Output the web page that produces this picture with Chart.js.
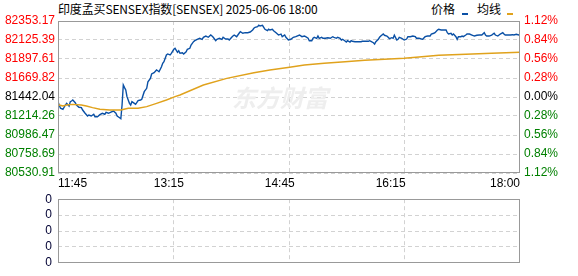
<!DOCTYPE html>
<html>
<head>
<meta charset="utf-8">
<script src="https://cdn.jsdelivr.net/npm/chart.js@4.4.1/dist/chart.umd.min.js"></script>
<style>
  body { margin: 0; background: #fff; }
  #wrap { position: relative; width: 578px; height: 276px; overflow: hidden; background: #fff; }
  .txt { position: absolute; font-family: "Noto Sans CJK SC", sans-serif; font-size: 12px; line-height: 14px; color: #000; white-space: nowrap; }
  .key { position: absolute; width: 6px; height: 2px; }
  canvas { position: absolute; left: 0; }
</style>
</head>
<body>
<div id="wrap">
  <div class="txt" style="left:58px;top:2px;letter-spacing:-0.15px;">印度孟买SENSEX指数[SENSEX] 2025-06-06 18:00</div>
  <div class="txt" style="left:431px;top:2px;">价格</div>
  <div class="key" style="left:462px;top:13px;background:#0a50a5;"></div>
  <div class="txt" style="left:477px;top:2px;">均线</div>
  <div class="key" style="left:507px;top:13px;background:#e0a21c;"></div>
  <canvas id="main" width="578" height="196" style="top:0;"></canvas>
  <canvas id="vol" width="578" height="90" style="top:186px;"></canvas>
</div>
<script>
// time axis (minutes since 11:45)
const sessionMinutes = 375;
const timeTicks = [0, 90, 180, 270, 375];
const timeLabels = ['11:45', '13:15', '14:45', '16:15', '18:00'];

// price axis
const priceTicks = [82353.17, 82125.39, 81897.61, 81669.82, 81442.04, 81214.26, 80986.47, 80758.69, 80530.91];
const pctLabels = ['1.12%', '0.84%', '0.56%', '0.28%', '0.00%', '0.28%', '0.56%', '0.84%', '1.12%'];
const baseClose = 81442.04;
const volLabels = ['0', '0', '0', '0', '0'];

// 价格
const priceMinutes = [
  0,2,4,6,7,9,10,11,12,14, 15,17,19,20,22,24,25,27,29,30,
  32,34,36,38,39,41,43,45,47,48, 50,51,52,53,54,55,56,58,59,60,
  62,63,65,67,68,70,72,73,75,76, 78,80,81,82,84,85,86,88,89,91,
  92,94,95,97,98,99,101,102,104,105, 107,108,110,111,113,115,117,118,120,122,
  124,125,126,128,129,131,133,134,136,138, 139,141,142,143,145,147,148,150,152,154,
  156,158,159,160,162,163,164,166,167,168, 170,171,172,174,175,177,179,181,182,184,
  185,187,189,191,193,194,196,198,200,201, 203,204,206,207,208,210,211,212,214,215,
  217,219,221,223,224,226,227,229,230,231, 233,234,235,237,238,239,241,243,246,247,
  249,252,253,254,256,257,258,260,261,262, 264,265,267,268,269,271,272,273,275,276,
  277,279,281,283,284,286,288,290,291,293, 295,296,298,300,302,303,305,306,308,309,
  311,313,315,316,317,319,320,321,323,324, 325,327,328,329,331,332,334,336,338,340,
  342,344,346,347,348,350,352,354,355,357, 358,359,361,362,363,365,367,369,370,372,
  374,375
];
const priceValues = [
  81386,81307,81295,81346,81366,81334,81386,81394,81406,81374,
  81346,81319,81314,81286,81247,81214,81226,81214,81235,81206,
  81206,81230,81247,81235,81259,81247,81262,81274,81247,81214,
  81194,81182,81346,81586,81554,81526,81446,81366,81346,81386,
  81366,81354,81398,81406,81414,81506,81546,81625,81666,81718,
  81733,81766,81757,81745,81805,81846,81865,81946,81958,81946,
  81966,82014,82026,81978,81997,81966,81973,81958,81985,82014,
  82026,82065,82105,82117,82134,82146,82134,82158,82173,82158,
  82185,82173,82158,82117,82134,82146,82134,82158,82137,82137,
  82125,82158,82173,82185,82165,82206,82225,82206,82213,82213,
  82221,82245,82266,82278,82285,82302,82293,82302,82278,82254,
  82237,82254,82245,82254,82237,82213,82185,82197,82165,82185,
  82158,82125,82134,82158,82165,82173,82185,82165,82173,82165,
  82146,82117,82117,82146,82158,82146,82173,82146,82158,82146,
  82146,82153,82146,82165,82158,82146,82158,82146,82125,82134,
  82113,82101,82117,82101,82117,82110,82105,82105,82105,82110,
  82110,82110,82117,82110,82093,82077,82105,82134,82158,82173,
  82197,82182,82173,82158,82141,82153,82146,82182,82125,82134,
  82158,82146,82125,82137,82165,82165,82173,82165,82146,82146,
  82137,82134,82165,82173,82173,82197,82206,82213,82245,82254,
  82245,82245,82245,82213,82197,82206,82185,82197,82165,82134,
  82165,82165,82173,82165,82185,82197,82197,82185,82173,82182,
  82185,82185,82213,82185,82173,82173,82185,82206,82185,82173,
  82185,82197,82213,82197,82185,82185,82185,82189,82185,82194,
  82185,82194
];

// 均线
const avgMinutes = [0,1,4,7,12,19,23,28,34,42,51,57,65,72,80,88,95,99,118,137,159,172,188,200,216,233,249,265,281,293,309,331,352,375];
const avgValues = [81358,81346,81334,81346,81354,81346,81334,81314,81295,81286,81286,81307,81307,81326,81366,81406,81446,81466,81586,81666,81733,81766,81798,81826,81846,81865,81882,81894,81906,81922,81942,81954,81966,81978];

// 成交量 (empty)
const volume = [];

const RED = '#ff0000', GREEN = '#008000', BLACK = '#000000';
const GRID = '#d2d2d2';
const DASH = [4, 3];
const tickFont = { family: 'Arial, "Liberation Sans", sans-serif', size: 12 };

function tickColor(v) {
  if (Math.abs(v - baseClose) < 0.01) return BLACK;
  return v > baseClose ? RED : GREEN;
}

const framePlugin = {
  id: 'frame',
  afterDraw(chart) {
    const { ctx, chartArea: a } = chart;
    ctx.save();
    ctx.strokeStyle = '#999';
    ctx.lineWidth = 1;
    ctx.setLineDash([]);
    ctx.strokeRect(Math.round(a.left) + 0.5, Math.round(a.top) + 0.5,
      Math.round(a.right - a.left) - 1, Math.round(a.bottom - a.top) - 1);
    ctx.restore();
  }
};

const watermarkPlugin = {
  id: 'watermark',
  beforeDatasetsDraw(chart) {
    const ctx = chart.ctx;
    ctx.save();
    ctx.fillStyle = '#eeeeee';
    ctx.font = 'bold italic 24px "Noto Sans CJK SC", sans-serif';
    ctx.textBaseline = 'middle';
    ctx.fillText('东方财富', 232, 98);
    ctx.restore();
  }
};

const quarterTicks = s => { s.ticks = [1, 2, 3].map(k => ({ value: sessionMinutes * k / 4 })); };
const priceTickBuild = s => { s.ticks = priceTicks.slice().reverse().map(v => ({ value: v })); };

new Chart(document.getElementById('main'), {
  type: 'line',
  data: {
    datasets: [
      {
        label: '均线',
        data: avgMinutes.map((m, i) => ({ x: m, y: avgValues[i] })),
        borderColor: '#e0a21c', borderWidth: 1.4, pointRadius: 0, tension: 0,
        xAxisID: 'x', yAxisID: 'y'
      },
      {
        label: '价格',
        data: priceMinutes.map((m, i) => ({ x: m, y: priceValues[i] })),
        borderColor: '#0a50a5', borderWidth: 1.4, pointRadius: 0, tension: 0,
        xAxisID: 'x', yAxisID: 'y'
      }
    ]
  },
  options: {
    responsive: false, animation: false, events: [],
    layout: { padding: { top: 21, left: 0, right: 0, bottom: 0 } },
    plugins: { legend: { display: false }, tooltip: { enabled: false } },
    scales: {
      x: {
        type: 'linear', position: 'bottom', min: 0, max: sessionMinutes,
        afterBuildTicks: s => { s.ticks = timeTicks.map(v => ({ value: v })); },
        afterFit: s => { s.height = 23; },
        grid: { display: false, drawTicks: false },
        border: { display: false },
        ticks: { autoSkip: false, maxRotation: 0, align: 'inner', padding: 3, color: BLACK, font: tickFont,
          callback: (v, i) => timeLabels[i] }
      },
      xg: {
        type: 'linear', position: 'top', min: 0, max: sessionMinutes,
        afterBuildTicks: quarterTicks,
        afterFit: s => { s.height = 0; },
        grid: { color: GRID, drawTicks: false, borderDash: DASH },
        border: { display: false, dash: DASH },
        ticks: { display: false }
      },
      y: {
        position: 'left', min: priceTicks[8], max: priceTicks[0],
        afterBuildTicks: priceTickBuild,
        afterFit: s => { s.width = 58; },
        grid: { color: GRID, drawTicks: false, borderDash: DASH },
        border: { display: false, dash: DASH },
        ticks: { autoSkip: false, padding: 3, font: tickFont,
          color: c => tickColor(c.tick.value),
          callback: v => v.toFixed(2) }
      },
      yr: {
        position: 'right', min: priceTicks[8], max: priceTicks[0],
        afterBuildTicks: priceTickBuild,
        afterFit: s => { s.width = 58; },
        grid: { display: false, drawTicks: false },
        border: { display: false },
        ticks: { autoSkip: false, padding: 4, font: tickFont,
          color: c => tickColor(c.tick.value),
          callback: v => pctLabels[priceTicks.findIndex(p => Math.abs(p - v) < 0.01)] }
      }
    }
  },
  plugins: [watermarkPlugin, framePlugin]
});

new Chart(document.getElementById('vol'), {
  type: 'line',
  data: { datasets: [{ data: volume, borderColor: '#0a50a5', pointRadius: 0 }] },
  options: {
    responsive: false, animation: false, events: [],
    layout: { padding: { top: 10, left: 0, right: 58, bottom: 4 } },
    plugins: { legend: { display: false }, tooltip: { enabled: false } },
    scales: {
      x: {
        type: 'linear', position: 'bottom', min: 0, max: sessionMinutes,
        afterBuildTicks: quarterTicks,
        afterFit: s => { s.height = 0; },
        grid: { color: GRID, drawTicks: false, borderDash: DASH },
        border: { display: false, dash: DASH },
        ticks: { display: false }
      },
      y: {
        position: 'left', min: 0, max: 4,
        afterBuildTicks: s => { s.ticks = volLabels.map((l, i) => ({ value: i })); },
        afterFit: s => { s.width = 58; },
        grid: { color: GRID, drawTicks: false, borderDash: DASH },
        border: { display: false, dash: DASH },
        ticks: { autoSkip: false, padding: 6, color: '#000033', font: tickFont,
          callback: (v, i) => volLabels[i] }
      }
    }
  },
  plugins: [framePlugin]
});
</script>
</body>
</html>
